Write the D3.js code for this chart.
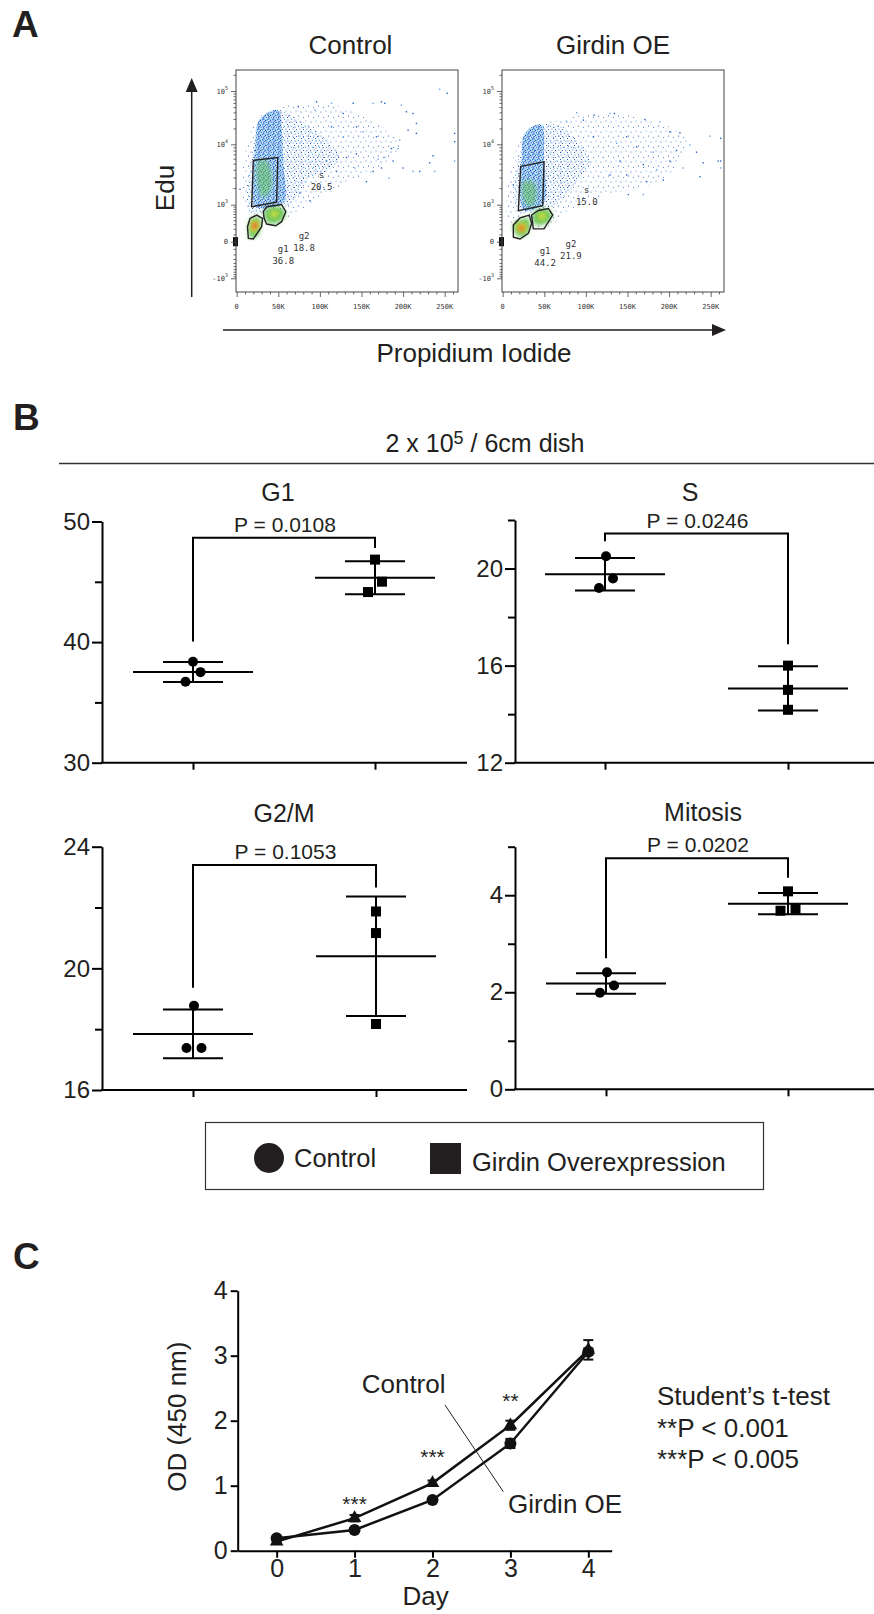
<!DOCTYPE html>
<html>
<head>
<meta charset="utf-8">
<script src="https://cdn.jsdelivr.net/npm/d3@7"></script>
<style>
  body { margin: 0; background: #fff; }
  text { font-family: "Liberation Sans", Arial, sans-serif; fill: #231f20; }
  .mono { font-family: "DejaVu Sans Mono", monospace; fill: #333; }
</style>
</head>
<body>
<svg id="fig" width="874" height="1614"></svg>
<script>
// ---------- Panel A : flow cytometry (PI in K units, EdU fluorescence) ----------
var flowTitles = ["Control", "Girdin OE"];
var flowXTicks = [0, 50, 100, 150, 200, 250];
var flowXTickLabels = ["0", "50K", "100K", "150K", "200K", "250K"];
var flowYTicks = [-1000, 0, 1000, 10000, 100000];
var flowYTickLabels = [["-10", "3"], ["0", ""], ["10", "3"], ["10", "4"], ["10", "5"]];
var flowYMinor = [-900, -800, -700, -600, -500, -400, -300, -200, -100, 100, 200, 300, 400, 500, 600, 700, 800, 900,
  2000, 3000, 4000, 5000, 6000, 7000, 8000, 9000, 20000, 30000, 40000, 50000, 60000, 70000, 80000, 90000, 200000];

var ctrlDots = [[164,59000],[174,63000],[178,59000],[198,54600],[204,41000],[212,38100],[244,108000],[253,90400],
  [140,59000],[114,59000],[96,63000],[74,50800],[94,44000],[128,38100],[144,21400],[152,17300],[168,13900],
  [186,8590],[194,8590],[206,18600],[216,16100],[212,3760],[232,5160],[236,6660],[238,3760],[220,3760],
  [200,4270],[183,2910],[174,4270],[164,3760],[170,5860],[144,7100],[132,6250],[142,4270],[156,2560],
  [262,16100],[262,5500],[262,11200],[216,24800],[196,12000],[188,5500],[114,21400],[128,13900],[108,5500],
  [120,3760],[100,1990],[88,1190],[76,1640],[178,6250],[4,1900]];
var ctrlFanSparse = [[20,21400],[56,50800],[88,58800],[124,50800],[156,33000],[180,18600],[196,10450],[188,6250],
  [164,3760],[136,2560],[108,1540],[88,1050],[72,622],[52,408],[20,508],[8,1050]];
var ctrlFanMedium = [[22,12000],[30,35500],[48,45300],[68,33000],[88,21400],[108,12000],[124,6250],[108,3760],
  [88,2910],[76,1750],[62,902],[56,752],[30,622],[16,685],[12,1540]];
var ctrlColumn = [[26,26600],[36,38100],[50,44000],[54,21400],[56,5500],[58,1190],[52,1000],[36,824],[22,902],[20,1990],[22,9150]];
var ctrlColumnCore = [[26,5500],[36,5500],[42,3300],[40,1750],[32,1360],[26,1990]];
var ctrlG2Green = [[34,752],[50,902],[58,685],[54,385],[40,320],[34,456]];
var ctrlG2Yellow = [[40,685],[49,710],[50.5,530],[42,490]];
var ctrlG1Green = [[16,408],[26,508],[29,281],[24,66],[16,55]];
var ctrlG1Yellow = [[18,363],[26,363],[25,176],[18,148]];
var ctrlG1Red = [[20,320],[25,304],[23,209],[19,209]];
var ctrlGateS = [[20,5640],[49.3,6240],[48,1120],[18,900]];
var ctrlGateG1 = [[16,456],[24,563],[31,456],[30,244],[20,34],[14,42],[13,244]];
var ctrlGateG2 = [[32,685],[36,900],[54,1010],[59,685],[54,363],[47,265],[36,304],[33,456]];
var ctrlGateLabels = [["s", "20.5", 102, 3300], ["g2", "18.8", 81, 81], ["g1", "36.8", 56, -97]];

var oeDots = [[88.9,39300],[96.9,28600],[109.8,35500],[129,38100],[134.2,38100],[171,29400],[189,26600],[201,17300],
  [213,16500],[249,14300],[262,13000],[262,5500],[262,4270],[259,5500],[233,7560],[225,9750],[209,8050],[201,5500],
  [217,4270],[237,3100],[193,2730],[185,4000],[169,4840],[173,2560],[169,1540],[149,3300],[141,5500],[137,10450],
  [149,13900],[161,9150],[121,6250],[129,3300],[109,13900],[76.9,26600],[12.8,2260],[241,5160],[181,7560],[151,1540]];
var oeFanSparse = [[20.8,12000],[40.8,23000],[68.9,28600],[92.9,35500],[133,38100],[169,30700],[201,21400],[222,12000],
  [215,6000],[190,2600],[161,1990],[129,1540],[96.9,1050],[72.9,508],[52.9,244],[16.8,244],[4.8,563]];
var oeFanMedium = [[20.8,7100],[32.8,18600],[48.8,24800],[68.9,21400],[88.9,12000],[105,5500],[92.9,2910],[76.9,1540],
  [60.9,902],[40.8,752],[20.8,622],[12.8,1540]];
var oeColumn = [[24.8,13900],[34.8,21400],[46.8,23000],[49.7,5500],[50.8,1190],[40.8,824],[24.8,752],[20.8,1990],[22.8,6250]];
var oeColumnCore = [[24.8,2560],[36.8,2560],[40.8,1360],[34.8,902],[26.8,1050]];
var oeG2Green = [[36.8,622],[48.8,824],[58.9,622],[56.9,408],[46.8,281],[37.6,320]];
var oeG2Yellow = [[42.8,600],[50.8,650],[52,456],[44,408]];
var oeG1Green = [[12.8,281],[20.8,418],[30.8,456],[32.8,244],[28.8,98],[18.8,66]];
var oeG1Yellow = [[16.8,281],[26.8,330],[28,165],[18.8,148]];
var oeG1Red = [[20,244],[24.8,265],[24.8,176],[20,176]];
var oeGateS = [[21.6,4540],[49.7,5360],[48.1,950],[18.8,725]];
var oeGateG1 = [[12.8,281],[20.8,470],[32,563],[34.8,320],[30.8,117],[20.8,34],[12.8,60]];
var oeGateG2 = [[34.8,563],[42.8,735],[54.9,820],[60.1,563],[49.7,199],[36.8,199]];
var oeGateLabels = [["s", "15.0", 101, 1840], ["g2", "21.9", 82, -33], ["g1", "44.2", 51, -135]];

// ---------- Panel B : cell cycle phases (%) ----------
var groups = ["Control", "Girdin Overexpression"];
var phaseNames = ["G1", "S", "G2/M", "Mitosis"];
var pValues = ["0.0108", "0.0246", "0.1053", "0.0202"];
var controlPct = [[38.37, 37.51, 36.71], [20.51, 19.59, 19.2], [18.77, 17.38, 17.38], [2.41, 2.14, 1.99]];
var girdinPct = [[46.84, 45.01, 44.15], [16.0, 15.0, 14.18], [21.87, 21.16, 18.17], [4.08, 3.68, 3.72]];
var yDomains = [[30, 50], [12, 22], [16, 24], [0, 5]];
var yMajor = [[30, 40, 50], [12, 16, 20], [16, 20, 24], [0, 2, 4]];
var yMinor = [[35, 45], [14, 18, 22], [18, 22], [1, 3, 5]];
var bracketTop = [48.66, 21.44, 23.4, 4.76];
var bracketLegs = [[40.06, 47.8], [21.12, 16.88], [19.36, 22.66], [2.7, 4.36]];

// ---------- Panel C : proliferation ----------
var days = [0, 1, 2, 3, 4];
var controlOD = [0.14, 0.50, 1.04, 1.93, 3.09];
var controlErr = [0.03, 0.05, 0.04, 0.07, 0.15];
var girdinOD = [0.19, 0.32, 0.78, 1.65, 3.06];
var girdinErr = [0.03, 0.03, 0.03, 0.07, 0.05];
var starDays = [1, 2, 3];
var starText = ["***", "***", "**"];
var starY = [0.61, 1.33, 2.2];
var testNotes = ["Student\u2019s t-test", "**P < 0.001", "***P < 0.005"];

var svg = d3.select("#fig");
var defs = svg.append("defs");

// speckle patterns for the density clouds
function speckle(id, w, dots, bg) {
  var p = defs.append("pattern").attr("id", id).attr("width", w).attr("height", w)
    .attr("patternUnits", "userSpaceOnUse");
  if (bg) p.append("rect").attr("width", w).attr("height", w).attr("fill", bg[0]).attr("opacity", bg[1]);
  dots.forEach(function(d) {
    p.append("circle").attr("cx", d[0]).attr("cy", d[1]).attr("r", d[2]).attr("fill", d[3]);
  });
}
speckle("pSparse", 10, [[1, 2, 0.6, "#2a64cc"], [6, 1, 0.55, "#4a90e0"], [8.5, 6, 0.6, "#1f4fb0"], [3.5, 7.5, 0.55, "#3a7ad8"]]);
speckle("pMed", 7, [[1, 1, 0.6, "#2a64cc"], [4.5, 0.5, 0.6, "#55ade8"], [2.5, 3.5, 0.6, "#1f4fb0"],
  [6, 3, 0.6, "#3a7ad8"], [0.5, 5.5, 0.6, "#1f4fb0"], [4, 6, 0.6, "#6ccbe6"]]);
speckle("pDense", 5, [[0.5, 0.5, 0.7, "#1e50b8"], [2.5, 0.8, 0.7, "#6ccbe6"], [4.2, 1.5, 0.7, "#2a64cc"],
  [1.5, 2.5, 0.7, "#3f86dd"], [3.5, 3, 0.7, "#1e50b8"], [0.8, 4.2, 0.7, "#6ccbe6"], [2.8, 4.5, 0.7, "#2a64cc"],
  [4.5, 4, 0.7, "#55ade8"]], ["#9cc0ef", 0.35]);
defs.append("filter").attr("id", "soft").attr("x", "-50%").attr("y", "-50%").attr("width", "200%").attr("height", "200%")
  .append("feGaussianBlur").attr("stdDeviation", 2);

// panel letters
[["A", 12, 37], ["B", 13, 430], ["C", 13, 1269]].forEach(function(d) {
  svg.append("text").attr("x", d[1]).attr("y", d[2]).attr("font-size", 37).attr("font-weight", "bold").text(d[0]);
});

// ---------- Panel A ----------
function drawFlow(i, left, top, titleX, parts) {
  var size = 222;
  var g = svg.append("g");
  var x = d3.scaleLinear().domain([0, 266]).range([left + 0.7, left + size]);
  var y = d3.scaleSymlog().constant(300).domain(flowYTicks)
    .range([top + 208.3, top + 171.7, top + 134.7, top + 74.3, top + 21]);

  g.append("text").attr("x", titleX).attr("y", 54).attr("text-anchor", "middle").attr("font-size", 26).text(flowTitles[i]);

  var clipId = "clip" + i;
  defs.append("clipPath").attr("id", clipId).append("rect")
    .attr("x", left).attr("y", top).attr("width", size).attr("height", size);
  var cloud = g.append("g").attr("clip-path", "url(#" + clipId + ")");

  var area = d3.line().x(function(d) { return x(d[0]); }).y(function(d) { return y(d[1]); })
    .curve(d3.curveCatmullRomClosed.alpha(0.5));
  var gate = d3.line().x(function(d) { return x(d[0]); }).y(function(d) { return y(d[1]); })
    .curve(d3.curveLinearClosed);

  cloud.append("path").attr("d", area(parts.sparse)).attr("fill", "url(#pSparse)");
  cloud.append("path").attr("d", area(parts.medium)).attr("fill", "url(#pMed)");
  cloud.append("path").attr("d", area(parts.column)).attr("fill", "url(#pDense)");
  var cores = [[parts.core, "#62c255", 0.55], [parts.g2g, "#5cbf4a", 0.9], [parts.g2y, "#dfe03a", 0.8],
    [parts.g1g, "#5cbf4a", 0.9], [parts.g1y, "#e8dc32", 0.95], [parts.g1r, "#e8412c", 0.95]];
  cores.forEach(function(c) {
    cloud.append("path").attr("d", area(c[0])).attr("fill", c[1]).attr("opacity", c[2]).attr("filter", "url(#soft)");
  });
  cloud.selectAll("rect.dot").data(parts.dots).enter().append("rect").attr("class", "dot")
    .attr("x", function(d) { return x(d[0]) - 0.7; })
    .attr("y", function(d) { return y(d[1]) - 0.7; })
    .attr("width", 1.4).attr("height", 1.4)
    .attr("fill", function(d, k) { return k % 3 === 0 ? "#6aa6e6" : "#2a62c8"; });

  // pile-up of events on the low PI edge
  g.append("rect").attr("x", left - 3).attr("y", y(60)).attr("width", 5).attr("height", y(-60) - y(60)).attr("fill", "#111");

  [parts.gS, parts.gG1, parts.gG2].forEach(function(p) {
    g.append("path").attr("d", gate(p)).attr("fill", "none").attr("stroke", "#222").attr("stroke-width", 1.4);
  });
  parts.labels.forEach(function(l) {
    var t = g.append("text").attr("class", "mono").attr("text-anchor", "middle").attr("font-size", 9)
      .attr("x", x(l[2])).attr("y", y(l[3]) + 3);
    t.append("tspan").attr("x", x(l[2])).text(l[0]);
    t.append("tspan").attr("x", x(l[2])).attr("dy", 12).text(l[1]);
  });

  g.append("rect").attr("x", left).attr("y", top).attr("width", size).attr("height", size)
    .attr("fill", "none").attr("stroke", "#444").attr("stroke-width", 1);

  var yAxis = g.append("g").attr("transform", "translate(" + left + ",0)")
    .call(d3.axisLeft(y).tickValues(flowYTicks).tickSize(5).tickFormat(""));
  var yMin = g.append("g").attr("transform", "translate(" + left + ",0)")
    .call(d3.axisLeft(y).tickValues(flowYMinor).tickSize(2.5).tickFormat(""));
  var xAxis = g.append("g").attr("transform", "translate(0," + (top + size) + ")")
    .call(d3.axisBottom(x).tickValues(flowXTicks).tickSize(5).tickFormat(""));
  var xMin = g.append("g").attr("transform", "translate(0," + (top + size) + ")")
    .call(d3.axisBottom(x).tickValues(d3.range(10, 261, 10).filter(function(v) { return v % 50; })).tickSize(2.5).tickFormat(""));
  [yAxis, yMin, xAxis, xMin].forEach(function(a) {
    a.select(".domain").remove();
    a.selectAll("line").attr("stroke", "#444").attr("stroke-width", 0.8);
  });

  flowYTicks.forEach(function(v, k) {
    var t = g.append("text").attr("class", "mono").attr("font-size", 7).attr("text-anchor", "end")
      .attr("x", left - 8).attr("y", y(v) + 2.5);
    t.append("tspan").text(flowYTickLabels[k][0]);
    if (flowYTickLabels[k][1]) t.append("tspan").attr("font-size", 5).attr("dy", -4).text(flowYTickLabels[k][1]);
  });
  flowXTicks.forEach(function(v, k) {
    g.append("text").attr("class", "mono").attr("font-size", 7).attr("text-anchor", "middle")
      .attr("x", x(v)).attr("y", top + size + 17).text(flowXTickLabels[k]);
  });
}

drawFlow(0, 236, 70, 350.5, {
  dots: ctrlDots, sparse: ctrlFanSparse, medium: ctrlFanMedium, column: ctrlColumn, core: ctrlColumnCore,
  g2g: ctrlG2Green, g2y: ctrlG2Yellow, g1g: ctrlG1Green, g1y: ctrlG1Yellow, g1r: ctrlG1Red,
  gS: ctrlGateS, gG1: ctrlGateG1, gG2: ctrlGateG2, labels: ctrlGateLabels
});
drawFlow(1, 502, 70, 613, {
  dots: oeDots, sparse: oeFanSparse, medium: oeFanMedium, column: oeColumn, core: oeColumnCore,
  g2g: oeG2Green, g2y: oeG2Yellow, g1g: oeG1Green, g1y: oeG1Yellow, g1r: oeG1Red,
  gS: oeGateS, gG1: oeGateG1, gG2: oeGateG2, labels: oeGateLabels
});

// axis arrows of panel A
svg.append("line").attr("x1", 191.7).attr("x2", 191.7).attr("y1", 297).attr("y2", 90).attr("stroke", "#231f20").attr("stroke-width", 1.5);
svg.append("path").attr("d", "M191.7,78 L185.7,92 L197.7,92 Z").attr("fill", "#231f20");
svg.append("line").attr("x1", 223).attr("x2", 714).attr("y1", 330).attr("y2", 330).attr("stroke", "#231f20").attr("stroke-width", 1.5);
svg.append("path").attr("d", "M726,330 L712,324 L712,336 Z").attr("fill", "#231f20");
svg.append("text").attr("transform", "translate(174,188) rotate(-90)").attr("text-anchor", "middle").attr("font-size", 26).text("Edu");
svg.append("text").attr("x", 474).attr("y", 362).attr("text-anchor", "middle").attr("font-size", 26).text("Propidium Iodide");

// ---------- Panel B ----------
var header = svg.append("text").attr("x", 485).attr("y", 452).attr("text-anchor", "middle").attr("font-size", 25);
header.append("tspan").text("2 x 10");
header.append("tspan").attr("font-size", 18).attr("dy", -8).text("5");
header.append("tspan").attr("dy", 8).text(" / 6cm dish");
svg.append("line").attr("x1", 59).attr("x2", 874).attr("y1", 463.5).attr("y2", 463.5).attr("stroke", "#333").attr("stroke-width", 1.5);

var layout = [
  { axisX: 102, right: 467, top: 521.5, bottom: 762.7, cats: [193, 375], titleX: 278, titleY: 500.5 },
  { axisX: 515, right: 874, top: 520, bottom: 762.7, cats: [605, 788], titleX: 690, titleY: 500.5 },
  { axisX: 102, right: 467, top: 846.7, bottom: 1090, cats: [193, 376], titleX: 284, titleY: 821.5 },
  { axisX: 515, right: 874, top: 846.7, bottom: 1089.3, cats: [606, 788], titleX: 703, titleY: 820.5 }
];
var jitter = [[[0, 7.5, -7.5], [0, 7, -7]], [[1, 8, -6], [0, 0, 0]], [[1, -6.5, 8.5], [0, 0, 0]], [[1, 8, -6], [0, -7.5, 7.5]]];

phaseNames.forEach(function(name, i) {
  var L = layout[i];
  var g = svg.append("g");
  var y = d3.scaleLinear().domain(yDomains[i]).range([L.bottom, L.top]);
  var x = d3.scalePoint().domain(groups).range(L.cats);

  g.append("text").attr("x", L.titleX).attr("y", L.titleY).attr("text-anchor", "middle").attr("font-size", 25).text(name);

  var ya = g.append("g").attr("transform", "translate(" + L.axisX + ",0)")
    .call(d3.axisLeft(y).tickValues(yMajor[i]).tickSize(10).tickSizeOuter(0).tickPadding(2).tickFormat(d3.format("d")));
  ya.select(".domain").attr("stroke-width", 2);
  ya.selectAll("line").attr("stroke-width", 2);
  ya.selectAll("text").attr("font-size", 24).attr("fill", "#231f20").attr("font-family", "Liberation Sans, Arial, sans-serif");
  var ym = g.append("g").attr("transform", "translate(" + L.axisX + ",0)")
    .call(d3.axisLeft(y).tickValues(yMinor[i]).tickSize(7).tickFormat(""));
  ym.select(".domain").remove();
  ym.selectAll("line").attr("stroke-width", 2);

  g.append("line").attr("x1", L.axisX - 1).attr("x2", L.right).attr("y1", L.bottom).attr("y2", L.bottom)
    .attr("stroke", "#000").attr("stroke-width", 2);
  var xa = g.append("g").attr("transform", "translate(0," + L.bottom + ")")
    .call(d3.axisBottom(x).tickSize(7).tickSizeOuter(0).tickFormat(""));
  xa.select(".domain").remove();
  xa.selectAll("line").attr("stroke-width", 2);

  // significance bracket
  var bx0 = x(groups[0]), bx1 = x(groups[1]);
  g.append("path")
    .attr("d", "M" + bx0 + "," + y(bracketLegs[i][0]) + "V" + y(bracketTop[i]) + "H" + bx1 + "V" + y(bracketLegs[i][1]))
    .attr("fill", "none").attr("stroke", "#000").attr("stroke-width", 2);
  g.append("text").attr("x", (bx0 + bx1) / 2 + 1).attr("y", y(bracketTop[i]) - 6).attr("text-anchor", "middle")
    .attr("font-size", 21).text("P = " + pValues[i]);

  [controlPct[i], girdinPct[i]].forEach(function(vals, k) {
    var cx = x(groups[k]);
    var m = d3.mean(vals), s = d3.deviation(vals);
    g.append("line").attr("x1", cx - 60).attr("x2", cx + 60).attr("y1", y(m)).attr("y2", y(m)).attr("stroke", "#000").attr("stroke-width", 2);
    [m - s, m + s].forEach(function(v) {
      g.append("line").attr("x1", cx - 30).attr("x2", cx + 30).attr("y1", y(v)).attr("y2", y(v)).attr("stroke", "#000").attr("stroke-width", 2);
    });
    g.append("line").attr("x1", cx).attr("x2", cx).attr("y1", y(m - s)).attr("y2", y(m + s)).attr("stroke", "#000").attr("stroke-width", 2);
    vals.forEach(function(v, j) {
      var px = cx + jitter[i][k][j];
      if (k === 0) {
        g.append("circle").attr("cx", px).attr("cy", y(v)).attr("r", 5).attr("fill", "#000");
      } else {
        g.append("rect").attr("x", px - 5).attr("y", y(v) - 5).attr("width", 10).attr("height", 10).attr("fill", "#000");
      }
    });
  });
});

// legend
var leg = svg.append("g");
leg.append("rect").attr("x", 205.5).attr("y", 1122.5).attr("width", 558).attr("height", 67)
  .attr("fill", "none").attr("stroke", "#333").attr("stroke-width", 1.2);
leg.append("circle").attr("cx", 269).attr("cy", 1158).attr("r", 15).attr("fill", "#231f20");
leg.append("text").attr("x", 294).attr("y", 1167).attr("font-size", 25.5).text(groups[0]);
leg.append("rect").attr("x", 430).attr("y", 1143).attr("width", 31).attr("height", 31).attr("fill", "#231f20");
leg.append("text").attr("x", 472).attr("y", 1171).attr("font-size", 25.5).text(groups[1]);

// ---------- Panel C ----------
var cx = d3.scaleLinear().domain([-0.5, 4.3]).range([237.7, 611.7]);
var cy = d3.scaleLinear().domain([0, 4]).range([1550.7, 1290.7]);
var gc = svg.append("g");
var cxa = gc.append("g").attr("transform", "translate(0,1550.7)")
  .call(d3.axisBottom(cx).tickValues(days).tickSize(7).tickSizeOuter(0).tickPadding(2).tickFormat(d3.format("d")));
var cya = gc.append("g").attr("transform", "translate(237.7,0)")
  .call(d3.axisLeft(cy).tickValues([0, 1, 2, 3, 4]).tickSize(7).tickSizeOuter(0).tickPadding(3).tickFormat(d3.format("d")));
[cxa, cya].forEach(function(a) {
  a.select(".domain").attr("stroke-width", 2);
  a.selectAll("line").attr("stroke-width", 2);
  a.selectAll("text").attr("font-size", 25).attr("fill", "#231f20").attr("font-family", "Liberation Sans, Arial, sans-serif");
});
gc.append("text").attr("x", 425.7).attr("y", 1605).attr("text-anchor", "middle").attr("font-size", 26).text("Day");
gc.append("text").attr("transform", "translate(186,1416.7) rotate(-90)").attr("text-anchor", "middle").attr("font-size", 26).text("OD (450 nm)");

var odLine = d3.line().x(function(d, k) { return cx(days[k]); }).y(function(d) { return cy(d); });
[[controlOD, controlErr, "tri"], [girdinOD, girdinErr, "dot"]].forEach(function(s) {
  gc.append("path").attr("d", odLine(s[0])).attr("fill", "none").attr("stroke", "#111").attr("stroke-width", 2.5);
  s[0].forEach(function(v, k) {
    var px = cx(days[k]);
    gc.append("line").attr("x1", px).attr("x2", px).attr("y1", cy(v - s[1][k])).attr("y2", cy(v + s[1][k])).attr("stroke", "#111").attr("stroke-width", 2);
    [v - s[1][k], v + s[1][k]].forEach(function(e) {
      gc.append("line").attr("x1", px - 5).attr("x2", px + 5).attr("y1", cy(e)).attr("y2", cy(e)).attr("stroke", "#111").attr("stroke-width", 2);
    });
    if (s[2] === "tri") {
      gc.append("path").attr("d", d3.symbol(d3.symbolTriangle, 80)()).attr("transform", "translate(" + px + "," + cy(v) + ")").attr("fill", "#111");
    } else {
      gc.append("circle").attr("cx", px).attr("cy", cy(v)).attr("r", 6).attr("fill", "#111");
    }
  });
});
starDays.forEach(function(d, k) {
  gc.append("text").attr("x", cx(d)).attr("y", cy(starY[k])).attr("text-anchor", "middle").attr("font-size", 21).text(starText[k]);
});
gc.append("text").attr("x", 361.7).attr("y", 1393).attr("font-size", 26).text("Control");
gc.append("text").attr("x", 508).attr("y", 1513).attr("font-size", 26).text("Girdin OE");
gc.append("line").attr("x1", 445).attr("y1", 1405).attr("x2", 503.3).attr("y2", 1491.7).attr("stroke", "#231f20").attr("stroke-width", 1);
testNotes.forEach(function(t, k) {
  gc.append("text").attr("x", 657).attr("y", 1405 + k * 31.6).attr("font-size", 26).text(t);
});
</script>
</body>
</html>
